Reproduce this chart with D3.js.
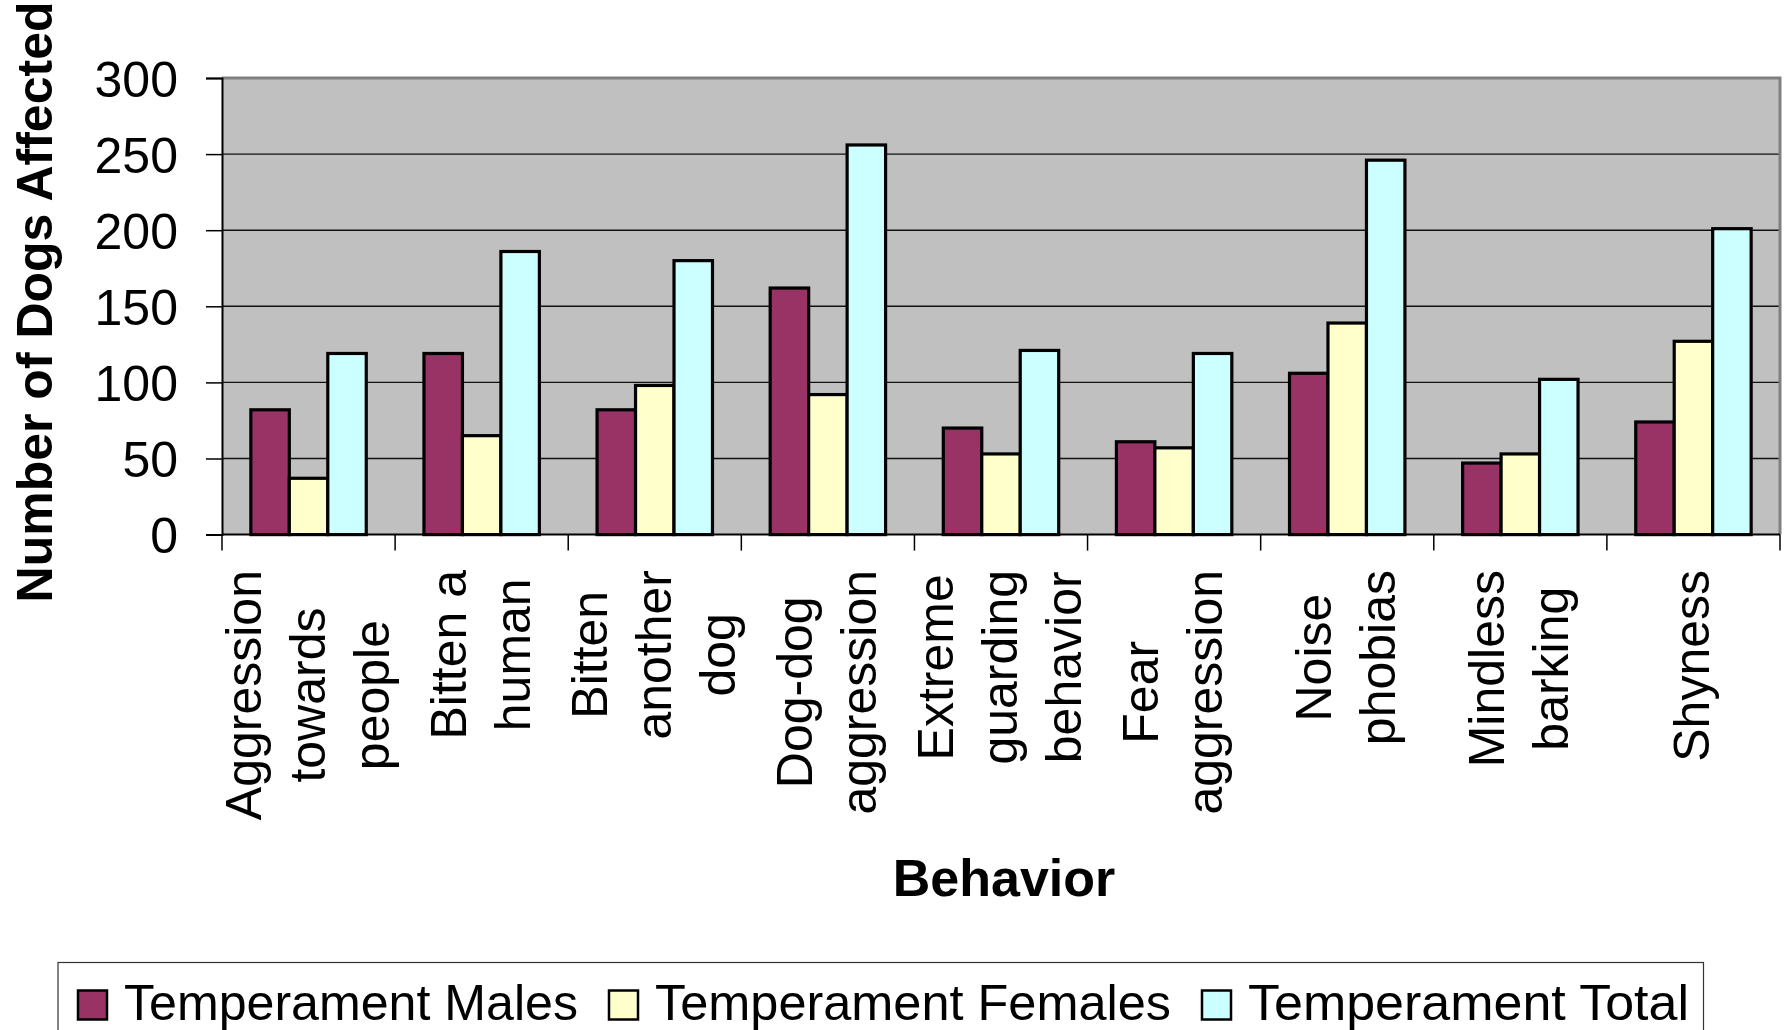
<!DOCTYPE html>
<html>
<head>
<meta charset="utf-8">
<script src="https://cdn.jsdelivr.net/npm/d3@7"></script>
<style>
  html, body { margin: 0; padding: 0; background: #ffffff; }
  svg { display: block; }
  text { font-family: "Liberation Sans", Arial, Helvetica, sans-serif; fill: #000; }
</style>
</head>
<body>
<svg id="chart" width="1786" height="1030"></svg>
<script>
// ---- Data ----
const categories = [
  "Aggression towards people",
  "Bitten a human",
  "Bitten another dog",
  "Dog-dog aggression",
  "Extreme guarding behavior",
  "Fear aggression",
  "Noise phobias",
  "Mindless barking",
  "Shyness"
];
const categoryLines = [
  ["Aggression", "towards", "people"],
  ["Bitten a", "human"],
  ["Bitten", "another", "dog"],
  ["Dog-dog", "aggression"],
  ["Extreme", "guarding", "behavior"],
  ["Fear", "aggression"],
  ["Noise", "phobias"],
  ["Mindless", "barking"],
  ["Shyness"]
];
const seriesNames = ["Temperament Males", "Temperament Females", "Temperament Total"];
const malesValues   = [82, 119, 82, 162, 70, 61, 106, 47, 74];
const femalesValues = [37, 65, 98, 92, 53, 57, 139, 53, 127];
const totalValues   = [119, 186, 180, 256, 121, 119, 246, 102, 201];
const yTicks = [0, 50, 100, 150, 200, 250, 300];
const seriesColors = ["#993366", "#FFFFCC", "#CCFFFF"];

const seriesValues = [malesValues, femalesValues, totalValues];

// ---- Layout ----
const svg = d3.select("#chart");
const plot = { left: 222, right: 1780, top: 78, bottom: 534.6 };
const FS = 50;

const x0 = d3.scaleBand().domain(categories).range([plot.left, plot.right]).paddingInner(0).paddingOuter(0);
const x1 = d3.scaleBand().domain(seriesNames).range([0, x0.bandwidth()]).paddingInner(0).paddingOuter(0.75);
const y = d3.scaleLinear().domain([0, 300]).range([plot.bottom, plot.top]);

// plot background
svg.append("rect")
  .attr("x", plot.left).attr("y", plot.top)
  .attr("width", plot.right - plot.left).attr("height", plot.bottom - plot.top)
  .attr("fill", "#C0C0C0");

// gridlines
svg.append("g").selectAll("line")
  .data(yTicks.filter(d => d > 0 && d < 300))
  .join("line")
  .attr("x1", plot.left).attr("x2", plot.right)
  .attr("y1", d => y(d)).attr("y2", d => y(d))
  .attr("stroke", "#111").attr("stroke-width", 1.4);

// top and right borders (gray)
svg.append("path")
  .attr("d", `M${plot.left},${plot.top} H${plot.right} V${plot.bottom}`)
  .attr("fill", "none").attr("stroke", "#808080").attr("stroke-width", 3);

// bars
const groups = svg.append("g").selectAll("g")
  .data(categories)
  .join("g")
  .attr("transform", d => `translate(${x0(d)},0)`);

groups.selectAll("rect")
  .data((d, i) => seriesNames.map((s, j) => ({ s, v: seriesValues[j][i], c: seriesColors[j] })))
  .join("rect")
  .attr("x", d => x1(d.s))
  .attr("y", d => y(d.v))
  .attr("width", x1.bandwidth())
  .attr("height", d => y(0) - y(d.v))
  .attr("fill", d => d.c)
  .attr("stroke", "#000")
  .attr("stroke-width", 3.2);

// Y axis
const yAxis = d3.axisLeft(y).tickValues(yTicks).tickSize(16).tickPadding(28).tickFormat(d3.format("d"));
const yAxisG = svg.append("g").attr("transform", `translate(${plot.left},0)`).call(yAxis);
yAxisG.select(".domain").attr("stroke", "#000").attr("stroke-width", 2);
yAxisG.selectAll(".tick line").attr("stroke", "#000").attr("stroke-width", 1.5);
yAxisG.selectAll(".tick text")
  .attr("font-size", FS)
  .attr("font-family", "'Liberation Sans', Arial, sans-serif")
  .attr("fill", "#000")
  .attr("dy", "0.36em");

// X axis line + ticks at category boundaries
svg.append("line")
  .attr("x1", plot.left).attr("x2", plot.right)
  .attr("y1", plot.bottom).attr("y2", plot.bottom)
  .attr("stroke", "#000").attr("stroke-width", 2);
const boundaries = categories.map(c => x0(c)).concat([plot.right]);
svg.append("g").selectAll("line")
  .data(boundaries)
  .join("line")
  .attr("x1", d => d).attr("x2", d => d)
  .attr("y1", plot.bottom).attr("y2", plot.bottom + 16)
  .attr("stroke", "#000").attr("stroke-width", 1.5);

// category labels (rotated, multi-line, centered)
const labelTop = 570;
const lineGap = 64;
categories.forEach((c, i) => {
  const lines = categoryLines[i];
  const cx = x0(c) + x0.bandwidth() / 2;
  const g = svg.append("g");
  const texts = lines.map((ln, k) => g.append("text")
    .attr("font-size", FS)
    .attr("text-anchor", "middle")
    .text(ln));
  const maxLen = d3.max(texts, t => t.node().getComputedTextLength());
  const cy = labelTop + maxLen / 2;
  texts.forEach((t, k) => {
    const bx = cx + (k - (lines.length - 1) / 2) * lineGap + 16;
    t.attr("transform", `translate(${bx},${cy}) rotate(-90)`);
  });
});

// axis titles
svg.append("text")
  .attr("transform", "translate(52,302) rotate(-90)")
  .attr("text-anchor", "middle")
  .attr("font-size", FS)
  .attr("font-weight", "bold")
  .text("Number of Dogs Affected");

svg.append("text")
  .attr("x", 1004).attr("y", 896)
  .attr("text-anchor", "middle")
  .attr("font-size", 52)
  .attr("font-weight", "bold")
  .text("Behavior");

// legend
svg.append("rect")
  .attr("x", 58).attr("y", 962.5)
  .attr("width", 1645.5).attr("height", 120)
  .attr("fill", "#fff").attr("stroke", "#333").attr("stroke-width", 1.2);

const legendTextLen = [454, 516, 441];
let lx = 78;
seriesNames.forEach((s, j) => {
  svg.append("rect")
    .attr("x", lx).attr("y", 990.5)
    .attr("width", 29).attr("height", 29)
    .attr("fill", seriesColors[j]).attr("stroke", "#000").attr("stroke-width", 2.5);
  svg.append("text")
    .attr("x", lx + 46).attr("y", 1020)
    .attr("font-size", FS)
    .attr("textLength", legendTextLen[j])
    .attr("lengthAdjust", "spacingAndGlyphs")
    .text(s);
  lx = lx + 46 + legendTextLen[j] + 31;
});
</script>
</body>
</html>
